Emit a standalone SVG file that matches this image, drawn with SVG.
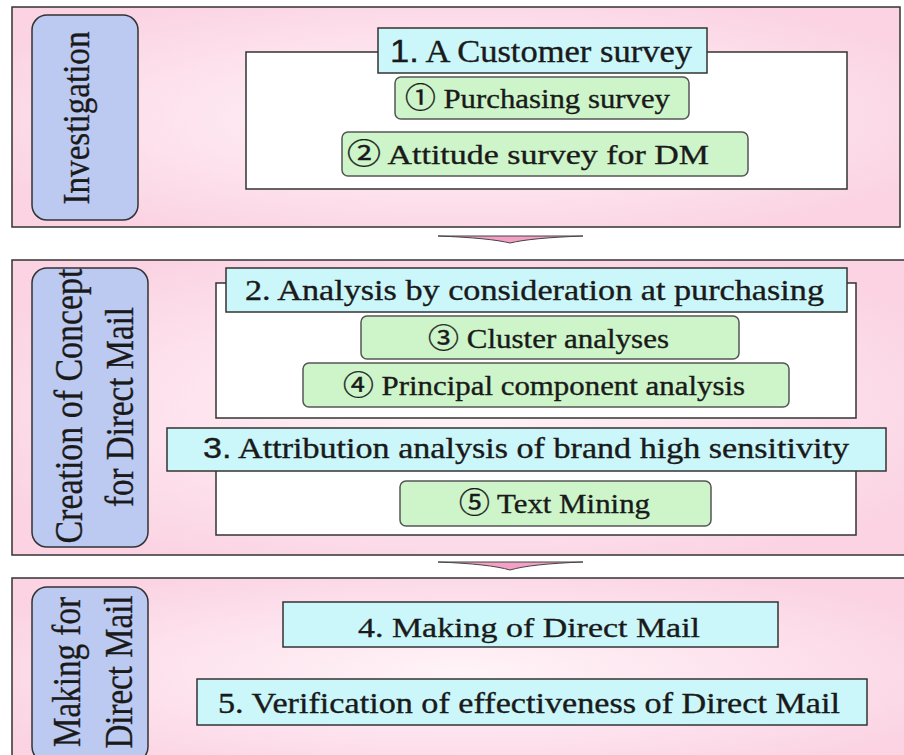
<svg xmlns="http://www.w3.org/2000/svg" width="904" height="755" viewBox="0 0 904 755">
<defs>
<radialGradient id="pinkG" cx="0.5" cy="0.5" r="0.6">
<stop offset="0" stop-color="#fff4f8"/>
<stop offset="0.6" stop-color="#fde1ec"/>
<stop offset="1" stop-color="#fbd3e3"/>
</radialGradient>
<style>
.panel{fill:url(#pinkG);stroke:#333;stroke-width:1.5}
.pill{fill:#bcc9f1;stroke:#333;stroke-width:1.5}
.white{fill:#ffffff;stroke:#333;stroke-width:1.5}
.cyan{fill:#cbf7fb;stroke:#333;stroke-width:1.5}
.green{fill:#cdf5c9;stroke:#555;stroke-width:1.5}
.t{font-family:"Liberation Serif","Times New Roman","Noto Sans CJK JP",serif;fill:#1a1a1a;stroke:#1a1a1a;stroke-width:0.35}
.s{font-family:"Liberation Sans",Arial,sans-serif}
.arrow{fill:#f4a0c6;stroke:#444;stroke-width:1}
</style>
</defs>
<rect width="904" height="755" fill="#ffffff"/>

<g id="panel-investigation">
<rect class="panel" x="12" y="7" width="888" height="220"/>
<rect class="pill" x="32" y="15" width="106" height="205" rx="15"/>
<text class="t" font-size="38" textLength="173" lengthAdjust="spacingAndGlyphs" text-anchor="middle" transform="translate(89,118) rotate(-90)">Investigation</text>
</g>
<g id="box-customer-survey">
<rect class="white" x="246" y="52" width="601" height="137"/>
<rect class="cyan" x="378" y="28" width="329" height="45"/>
<text class="t" x="390" y="62" font-size="31" textLength="302" lengthAdjust="spacingAndGlyphs"><tspan class="s">1.</tspan> A Customer survey</text>
</g>
<g id="item-1">
<rect class="green" x="395" y="77" width="294" height="42" rx="6"/>
<text class="t" x="405" y="108" font-size="28" textLength="265" lengthAdjust="spacingAndGlyphs">① Purchasing survey</text>
</g>
<g id="item-2">
<rect class="green" x="342" y="132" width="406" height="44" rx="6"/>
<text class="t" x="347" y="164" font-size="28" textLength="362" lengthAdjust="spacingAndGlyphs">② Attitude survey for DM</text>
</g>

<g id="panel-creation">
<rect class="panel" x="12" y="260" width="900" height="295"/>
<rect class="pill" x="32" y="268" width="116" height="279" rx="15"/>
<text class="t" font-size="39" textLength="275" lengthAdjust="spacingAndGlyphs" text-anchor="middle" transform="translate(82,406) rotate(-90)">Creation of Concept</text>
<text class="t" font-size="39" textLength="200" lengthAdjust="spacingAndGlyphs" text-anchor="middle" transform="translate(133,407) rotate(-90)">for Direct Mail</text>
</g>
<g id="box-analysis">
<rect class="white" x="216" y="283" width="640" height="135"/>
<rect class="cyan" x="226" y="268" width="621" height="44"/>
<text class="t" x="245" y="300" font-size="30" textLength="579" lengthAdjust="spacingAndGlyphs">2. Analysis by consideration at purchasing</text>
</g>
<g id="item-3">
<rect class="green" x="361" y="316" width="378" height="43" rx="6"/>
<text class="t" x="428" y="348" font-size="27" textLength="241" lengthAdjust="spacingAndGlyphs">③ Cluster analyses</text>
</g>
<g id="item-4">
<rect class="green" x="303" y="363" width="486" height="44" rx="6"/>
<text class="t" x="343" y="395" font-size="27" textLength="402" lengthAdjust="spacingAndGlyphs">④ Principal component analysis</text>
</g>
<g id="box-attribution">
<rect class="white" x="216" y="455" width="640" height="80"/>
<rect class="cyan" x="167" y="428" width="719" height="43"/>
<text class="t" x="203" y="458" font-size="30" textLength="646" lengthAdjust="spacingAndGlyphs"><tspan class="s">3.</tspan> Attribution analysis of brand high sensitivity</text>
</g>
<g id="item-5">
<rect class="green" x="400" y="481" width="311" height="45" rx="6"/>
<text class="t" x="459" y="513" font-size="28" textLength="191" lengthAdjust="spacingAndGlyphs">⑤ Text Mining</text>
</g>

<g id="panel-making">
<rect class="panel" x="12" y="578" width="900" height="190"/>
<rect class="pill" x="32" y="587" width="116" height="175" rx="15"/>
<text class="t" font-size="39" textLength="150" lengthAdjust="spacingAndGlyphs" text-anchor="middle" transform="translate(80,672) rotate(-90)">Making for</text>
<text class="t" font-size="39" textLength="153" lengthAdjust="spacingAndGlyphs" text-anchor="middle" transform="translate(132,672) rotate(-90)">Direct Mail</text>
</g>
<g id="box-making">
<rect class="cyan" x="283" y="602" width="495" height="45"/>
<text class="t" x="358" y="637" font-size="28" textLength="342" lengthAdjust="spacingAndGlyphs">4. Making of Direct Mail</text>
</g>
<g id="box-verification">
<rect class="cyan" x="197" y="679" width="670" height="46"/>
<text class="t" x="218" y="713" font-size="29" textLength="622" lengthAdjust="spacingAndGlyphs">5. Verification of effectiveness of Direct Mail</text>
</g>

<g id="connectors">
<path class="arrow" d="M438,236 L583,236 Q530,238 510,243 Q490,238 438,236 Z"/>
<path class="arrow" d="M438,562 L583,562 Q530,564 510,570 Q490,564 438,562 Z"/>
</g>
</svg>
